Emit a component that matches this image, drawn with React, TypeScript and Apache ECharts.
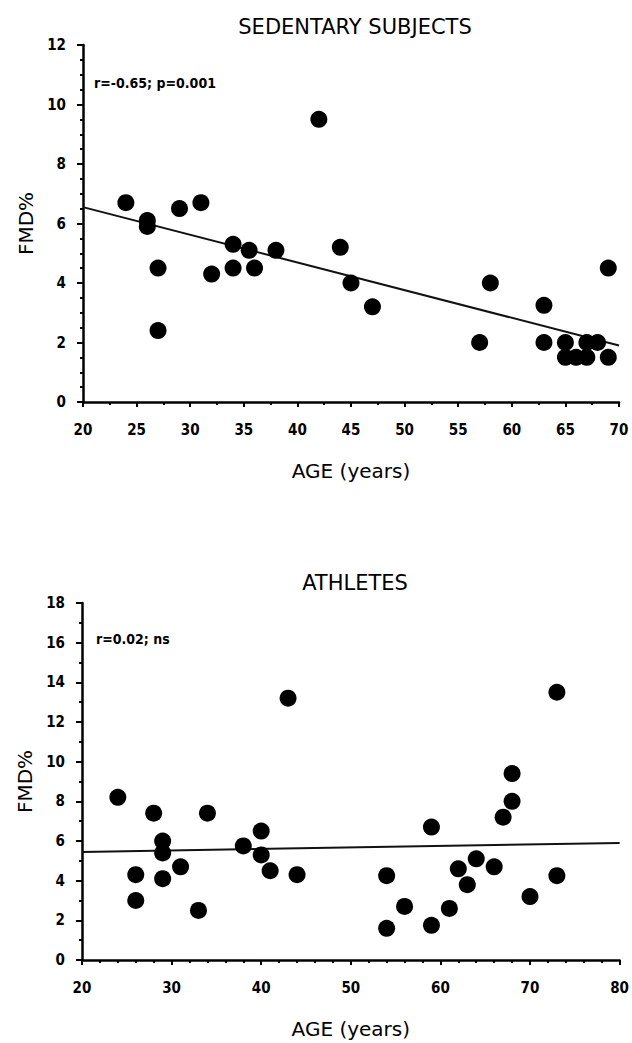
import React, { useEffect, useRef } from "react";
import * as echarts from "echarts";

// Sedentary subjects
const sedAge = [24, 26, 26, 27, 27, 29, 31, 32, 34, 34, 35.5, 36, 38, 42, 44, 45, 47, 57, 58, 63, 63, 65, 65, 66, 67, 67, 68, 69, 69];
const sedFmd = [6.7, 6.1, 5.9, 4.5, 2.4, 6.5, 6.7, 4.3, 5.3, 4.5, 5.1, 4.5, 5.1, 9.5, 5.2, 4.0, 3.2, 2.0, 4.0, 3.25, 2.0, 2.0, 1.5, 1.5, 1.5, 2.0, 2.0, 1.5, 4.5];
const sedLineAge = [20, 70];
const sedLineFmd = [6.55, 1.9];

// Athletes
const athAge = [24, 26, 26, 28, 29, 29, 29, 31, 33, 34, 38, 40, 40, 41, 43, 44, 54, 54, 56, 59, 59, 61, 62, 63, 64, 66, 67, 68, 68, 70, 73, 73];
const athFmd = [8.2, 4.3, 3.0, 7.4, 6.0, 5.4, 4.1, 4.7, 2.5, 7.4, 5.75, 6.5, 5.3, 4.5, 13.2, 4.3, 4.25, 1.6, 2.7, 6.7, 1.75, 2.6, 4.6, 3.8, 5.1, 4.7, 7.2, 8.0, 9.4, 3.2, 13.5, 4.25];
const athLineAge = [20, 80];
const athLineFmd = [5.45, 5.9];

const titles = ["SEDENTARY SUBJECTS", "ATHLETES"];
const stats = ["r=-0.65; p=0.001", "r=0.02; ns"];
const xName = "AGE (years)";
const yName = "FMD%";

const tickFont = "'DejaVu Sans Condensed', 'Liberation Sans Narrow', 'DejaVu Sans', sans-serif";
const mainFont = "'DejaVu Sans', 'Noto Sans', sans-serif";

function zip(a: number[], b: number[]) {
  return a.map((v, i) => [v, b[i]]);
}

function xAxisCfg(gridIndex: number, min: number, max: number, interval: number, minorSplit: number) {
  return {
    type: "value",
    gridIndex,
    min,
    max,
    interval,
    name: xName,
    nameLocation: "middle",
    nameGap: 59,
    nameTextStyle: { fontFamily: mainFont, fontSize: 20, color: "#000" },
    axisLine: { show: true, onZero: false, lineStyle: { color: "#000", width: 2.5 } },
    axisTick: { show: true, length: 5, lineStyle: { color: "#000", width: 2 } },
    minorTick: { show: true, splitNumber: minorSplit, length: 3, lineStyle: { color: "#000", width: 2 } },
    splitLine: { show: false },
    axisLabel: { color: "#000", fontFamily: tickFont, fontWeight: "bold", fontSize: 15, margin: 20 },
  };
}

function yAxisCfg(gridIndex: number, min: number, max: number, interval: number, minorSplit: number) {
  return {
    type: "value",
    gridIndex,
    min,
    max,
    interval,
    name: yName,
    nameLocation: "middle",
    nameGap: 38,
    nameTextStyle: { fontFamily: mainFont, fontSize: 20, color: "#000" },
    axisLine: { show: true, onZero: false, lineStyle: { color: "#000", width: 2.5 } },
    axisTick: { show: true, length: 6, lineStyle: { color: "#000", width: 2 } },
    minorTick: { show: true, splitNumber: minorSplit, length: 3, lineStyle: { color: "#000", width: 2 } },
    splitLine: { show: false },
    axisLabel: { color: "#000", fontFamily: tickFont, fontWeight: "bold", fontSize: 15, margin: 17 },
  };
}

export default function App() {
  const ref = useRef<HTMLDivElement>(null);
  useEffect(() => {
    if (!ref.current) return;
    const chart = echarts.init(ref.current, undefined, { renderer: "svg" });
    const scatterStyle = { color: "#000", opacity: 1 };
    chart.setOption({
      animation: false,
      backgroundColor: "#fff",
      grid: [
        { left: 83, right: 13, top: 45, height: 357 },
        { left: 82, right: 11, top: 603, height: 357 },
      ],
      xAxis: [xAxisCfg(0, 20, 70, 5, 2), xAxisCfg(1, 20, 80, 10, 5)],
      yAxis: [yAxisCfg(0, 0, 12, 2, 4), yAxisCfg(1, 0, 18, 2, 2)],
      graphic: [
        { type: "text", x: 355, y: 27, style: { text: titles[0], fill: "#000", font: `21px ${mainFont}`, align: "center", verticalAlign: "middle" } },
        { type: "text", x: 355, y: 583, style: { text: titles[1], fill: "#000", font: `21px ${mainFont}`, align: "center", verticalAlign: "middle" } },
        { type: "text", x: 94, y: 83, style: { text: stats[0], fill: "#000", font: `bold 14px ${tickFont}`, align: "left", verticalAlign: "middle" } },
        { type: "text", x: 96, y: 639, style: { text: stats[1], fill: "#000", font: `bold 14px ${tickFont}`, align: "left", verticalAlign: "middle" } },
      ],
      series: [
        {
          type: "line",
          xAxisIndex: 0,
          yAxisIndex: 0,
          data: zip(sedLineAge, sedLineFmd),
          symbol: "none",
          lineStyle: { color: "#111", width: 2 },
          z: 1,
        },
        {
          type: "scatter",
          xAxisIndex: 0,
          yAxisIndex: 0,
          data: zip(sedAge, sedFmd),
          symbol: "circle",
          symbolSize: 17,
          itemStyle: scatterStyle,
          z: 2,
        },
        {
          type: "line",
          xAxisIndex: 1,
          yAxisIndex: 1,
          data: zip(athLineAge, athLineFmd),
          symbol: "none",
          lineStyle: { color: "#111", width: 2 },
          z: 1,
        },
        {
          type: "scatter",
          xAxisIndex: 1,
          yAxisIndex: 1,
          data: zip(athAge, athFmd),
          symbol: "circle",
          symbolSize: 17,
          itemStyle: scatterStyle,
          z: 2,
        },
      ],
    });
    return () => chart.dispose();
  }, []);
  return (
    <div
      ref={ref}
      style={{ position: "absolute", left: 0, top: 0, width: 632, height: 1043, background: "#fff" }}
    />
  );
}
